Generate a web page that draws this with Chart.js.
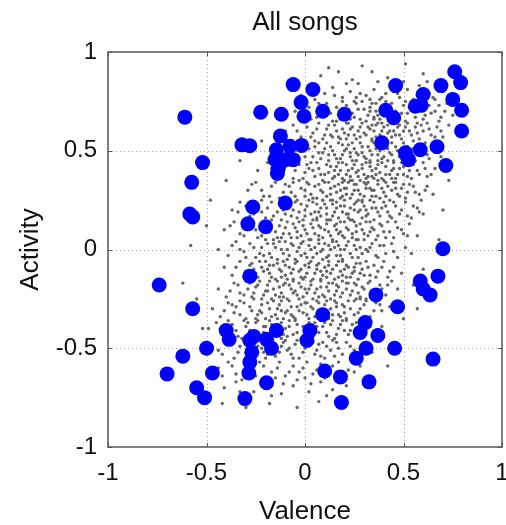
<!DOCTYPE html>
<html>
<head>
<meta charset="utf-8">
<title>All songs</title>
<script src="https://cdn.jsdelivr.net/npm/chart.js@4/dist/chart.umd.min.js"></script>
<style>
  html, body { margin: 0; padding: 0; background: #fff; overflow: hidden; }
  #wrap { width: 506px; height: 525px; position: relative; }
</style>
</head>
<body>
<div id="wrap"><canvas id="chart"></canvas></div>
<script>
// Axis ticks
const xTicks = [-1, -0.5, 0, 0.5, 1];
const yTicks = [-1, -0.5, 0, 0.5, 1];

// Highlighted songs (big blue dots), [valence, activity]
const bluePoints = [
    [-0.61, 0.67], [-0.52, 0.44], [-0.575, 0.34], [-0.585, 0.18], [-0.57, 0.165],
    [-0.225, 0.695], [-0.12, 0.685], [-0.125, 0.575], [-0.32, 0.53], [-0.28, 0.525],
    [-0.145, 0.505], [-0.076, 0.523], [-0.017, 0.527], [-0.152, 0.456], [-0.093, 0.456],
    [-0.135, 0.414], [-0.06, 0.455], [-0.14, 0.385],
    [-0.06, 0.835], [0.04, 0.81], [-0.02, 0.745], [-0.005, 0.675], [0.09, 0.70], [0.20, 0.685],
    [-0.265, 0.215], [-0.10, 0.235], [-0.29, 0.13], [-0.20, 0.115],
    [0.46, 0.83], [0.41, 0.705], [0.45, 0.667], [0.60, 0.785], [0.56, 0.725], [0.59, 0.73],
    [0.69, 0.83], [0.76, 0.90], [0.79, 0.845], [0.75, 0.76], [0.795, 0.705], [0.795, 0.60],
    [0.39, 0.54], [0.51, 0.49], [0.525, 0.455], [0.585, 0.505], [0.67, 0.52], [0.715, 0.425],
    [0.70, 0.004], [0.675, -0.135], [0.585, -0.16], [0.60, -0.20], [0.635, -0.23],
    [0.36, -0.23], [0.47, -0.29], [0.09, -0.33],
    [-0.74, -0.18], [-0.28, -0.135], [-0.57, -0.30], [-0.40, -0.41], [-0.385, -0.455],
    [-0.50, -0.50], [-0.62, -0.54], [-0.70, -0.63], [-0.47, -0.625], [-0.55, -0.70], [-0.51, -0.75],
    [-0.26, -0.44], [-0.195, -0.455], [-0.145, -0.41], [-0.17, -0.50],
    [-0.28, -0.46], [-0.27, -0.52], [-0.28, -0.57], [-0.285, -0.625],
    [-0.195, -0.675], [-0.305, -0.755],
    [0.025, -0.41], [0.01, -0.46], [0.10, -0.615],
    [0.305, -0.37], [0.28, -0.42], [0.37, -0.435], [0.31, -0.50], [0.26, -0.55],
    [0.455, -0.50], [0.65, -0.555], [0.18, -0.645], [0.325, -0.67], [0.185, -0.775]
];

// All songs (small gray dots), upper half of the cloud
const grayUpper = [
    [0.17,0.90],[0.34,0.90],[0.24,0.86],[0.51,0.94],[0.08,0.88],[0.42,0.87],[0.29,0.93],[0.60,0.89],[0.37,0.85],[0.12,0.92],
    [-0.02,0.78],[0.05,0.76],[0.14,0.82],[0.19,0.77],[0.23,0.80],[0.27,0.84],[0.31,0.78],[0.35,0.81],[0.38,0.76],[0.41,0.79],
    [0.44,0.84],[0.48,0.77],[0.52,0.81],[0.55,0.76],[0.58,0.83],[0.63,0.79],[0.66,0.76],[0.70,0.80],[0.10,0.79],[0.21,0.84],
    [0.33,0.76],[0.45,0.80],[0.50,0.85],[0.62,0.77],[0.26,0.77],
    [-0.05,0.70],[0.02,0.72],[0.06,0.67],[0.11,0.74],[0.13,0.69],[0.16,0.72],[0.18,0.66],[0.21,0.73],[0.24,0.69],[0.26,0.74],
    [0.28,0.66],[0.30,0.71],[0.32,0.68],[0.34,0.74],[0.36,0.70],[0.38,0.66],[0.40,0.72],[0.42,0.68],[0.44,0.74],[0.46,0.70],
    [0.48,0.66],[0.50,0.73],[0.52,0.69],[0.54,0.75],[0.56,0.67],[0.58,0.71],[0.61,0.68],[0.63,0.73],[0.66,0.70],[0.69,0.67],
    [0.72,0.74],[0.75,0.68],[0.23,0.66],[0.29,0.75],[0.35,0.67],[0.41,0.75],[0.47,0.67],[0.53,0.72],[0.08,0.70],[0.19,0.75],
    [-0.10,0.60],[-0.06,0.63],[-0.02,0.57],[0.01,0.62],[0.04,0.59],[0.07,0.64],[0.09,0.56],[0.11,0.61],[0.13,0.58],[0.15,0.63],
    [0.17,0.57],[0.19,0.61],[0.21,0.64],[0.22,0.58],[0.24,0.62],[0.26,0.56],[0.27,0.60],[0.29,0.64],[0.31,0.58],[0.32,0.62],
    [0.34,0.56],[0.35,0.60],[0.37,0.64],[0.38,0.58],[0.40,0.62],[0.41,0.56],[0.43,0.60],[0.44,0.64],[0.46,0.58],[0.47,0.62],
    [0.49,0.56],[0.50,0.60],[0.52,0.64],[0.54,0.58],[0.56,0.62],[0.58,0.56],[0.60,0.60],[0.62,0.64],[0.64,0.58],[0.67,0.62],
    [0.70,0.57],[0.73,0.63],[0.20,0.59],[0.28,0.57],[0.36,0.63],[0.42,0.59],[0.48,0.63],[0.55,0.55],[0.05,0.55],[0.16,0.65],
    [-0.14,0.48],[-0.09,0.53],[-0.03,0.46],[0.02,0.51],[0.04,0.47],[0.07,0.54],[0.09,0.49],[0.12,0.45],[0.13,0.52],[0.15,0.48],
    [0.17,0.54],[0.18,0.46],[0.20,0.50],[0.22,0.53],[0.23,0.47],[0.25,0.51],[0.26,0.45],[0.28,0.54],[0.29,0.49],[0.31,0.46],
    [0.32,0.52],[0.34,0.48],[0.35,0.54],[0.37,0.45],[0.38,0.50],[0.40,0.47],[0.41,0.53],[0.43,0.49],[0.45,0.45],[0.46,0.52],
    [0.48,0.47],[0.50,0.54],[0.53,0.46],[0.55,0.51],[0.58,0.48],[0.61,0.54],[0.63,0.46],[0.66,0.50],[0.69,0.47],[0.19,0.53],
    [0.27,0.48],[0.33,0.45],[0.36,0.51],[0.44,0.54],[0.51,0.49],[0.10,0.51],[0.24,0.45],[0.39,0.53],[0.56,0.45],
    [-0.24,0.40],[-0.19,0.44],[-0.15,0.37],[-0.10,0.42],[-0.06,0.36],[-0.03,0.43],[0.00,0.39],[0.03,0.44],[0.05,0.37],[0.07,0.41],
    [0.09,0.35],[0.11,0.43],[0.12,0.39],[0.14,0.36],[0.16,0.42],[0.17,0.38],[0.19,0.44],[0.20,0.35],[0.22,0.40],[0.23,0.37],
    [0.25,0.43],[0.26,0.39],[0.28,0.35],[0.29,0.41],[0.31,0.44],[0.32,0.37],[0.34,0.40],[0.35,0.36],[0.37,0.43],[0.38,0.39],
    [0.40,0.35],[0.41,0.42],[0.43,0.38],[0.45,0.44],[0.46,0.36],[0.48,0.41],[0.50,0.38],[0.52,0.43],[0.54,0.36],[0.57,0.40],
    [0.60,0.44],[0.62,0.37],[0.66,0.41],[0.08,0.38],[0.15,0.40],[0.21,0.43],[0.27,0.37],[0.33,0.42],[0.39,0.36],[0.44,0.40],
    [0.49,0.44],[0.02,0.41],[0.24,0.35],[0.36,0.38],[0.53,0.40],
    [-0.29,0.30],[-0.25,0.34],[-0.21,0.27],[-0.17,0.32],[-0.13,0.26],[-0.10,0.33],[-0.07,0.29],[-0.04,0.25],[-0.02,0.31],[0.01,0.34],
    [0.03,0.28],[0.05,0.32],[0.06,0.26],[0.08,0.30],[0.10,0.34],[0.11,0.27],[0.13,0.31],[0.14,0.25],[0.16,0.29],[0.17,0.33],
    [0.19,0.27],[0.20,0.31],[0.22,0.34],[0.23,0.26],[0.25,0.30],[0.26,0.33],[0.28,0.28],[0.29,0.25],[0.31,0.31],[0.32,0.34],
    [0.34,0.27],[0.35,0.30],[0.37,0.33],[0.38,0.26],[0.40,0.29],[0.42,0.32],[0.43,0.25],[0.45,0.34],[0.47,0.28],[0.49,0.31],
    [0.51,0.26],[0.53,0.33],[0.56,0.29],[0.59,0.25],[0.62,0.32],[0.65,0.28],[0.00,0.27],[0.09,0.25],[0.18,0.30],[0.27,0.25],
    [0.33,0.31],[0.41,0.34],[0.46,0.31],[-0.06,0.34],[0.21,0.28],[0.30,0.34],
    [-0.37,0.20],[-0.33,0.24],[-0.28,0.17],[-0.24,0.22],[-0.20,0.16],[-0.17,0.24],[-0.14,0.19],[-0.12,0.15],[-0.09,0.22],[-0.07,0.17],
    [-0.05,0.24],[-0.03,0.19],[-0.01,0.15],[0.01,0.22],[0.03,0.18],[0.04,0.24],[0.06,0.16],[0.08,0.21],[0.09,0.25],[0.11,0.18],
    [0.12,0.15],[0.14,0.23],[0.15,0.19],[0.17,0.16],[0.18,0.22],[0.20,0.25],[0.21,0.18],[0.23,0.21],[0.24,0.15],[0.26,0.24],
    [0.27,0.19],[0.29,0.16],[0.30,0.22],[0.32,0.18],[0.33,0.25],[0.35,0.15],[0.36,0.21],[0.38,0.17],[0.40,0.24],[0.42,0.19],
    [0.44,0.16],[0.46,0.22],[0.48,0.18],[0.51,0.24],[0.54,0.16],[0.57,0.21],[0.60,0.18],[-0.11,0.20],[0.00,0.17],[0.07,0.19],
    [0.16,0.21],[0.22,0.16],[0.31,0.20],[0.39,0.21],[-0.22,0.19],[0.10,0.23],[0.25,0.20],
    [-0.41,0.10],[-0.36,0.14],[-0.31,0.07],[-0.27,0.12],[-0.24,0.06],[-0.21,0.14],[-0.18,0.09],[-0.16,0.05],[-0.13,0.12],[-0.11,0.08],
    [-0.09,0.14],[-0.07,0.06],[-0.05,0.11],[-0.03,0.14],[-0.02,0.07],[0.00,0.10],[0.02,0.05],[0.03,0.13],[0.05,0.08],[0.06,0.15],
    [0.08,0.11],[0.09,0.06],[0.11,0.13],[0.12,0.09],[0.14,0.05],[0.15,0.12],[0.17,0.08],[0.18,0.14],[0.20,0.06],[0.21,0.11],
    [0.23,0.15],[0.24,0.08],[0.26,0.12],[0.27,0.05],[0.29,0.10],[0.31,0.14],[0.32,0.07],[0.34,0.11],[0.36,0.05],[0.38,0.13],
    [0.40,0.09],[0.42,0.14],[0.45,0.06],[0.47,0.11],[0.50,0.08],[0.53,0.13],[0.57,0.07],[-0.14,0.06],[-0.04,0.09],[0.07,0.12],
    [0.16,0.10],[0.25,0.14],[0.33,0.09],[-0.29,0.10],[0.19,0.07],[0.41,0.06],[0.13,0.15]
];

// Extra gray dots in the dense upper lobe
const grayUpperDense = [
    [0.07,0.74],[0.15,0.78],[0.22,0.71],[0.28,0.79],[0.33,0.72],[0.39,0.77],[0.43,0.71],[0.47,0.79],[0.51,0.75],[0.57,0.78],
    [0.61,0.72],[0.65,0.77],[0.68,0.73],[0.36,0.74],[0.25,0.75],
    [0.03,0.66],[0.10,0.69],[0.14,0.65],[0.19,0.70],[0.25,0.67],[0.27,0.71],[0.31,0.65],[0.33,0.70],[0.37,0.68],[0.39,0.64],
    [0.43,0.70],[0.45,0.66],[0.49,0.69],[0.51,0.65],[0.55,0.70],[0.57,0.64],[0.60,0.66],[0.64,0.69],[0.68,0.65],[0.71,0.70],
    [0.22,0.64],[0.35,0.66],[0.47,0.64],
    [-0.04,0.60],[0.03,0.57],[0.06,0.61],[0.10,0.58],[0.12,0.63],[0.16,0.60],[0.18,0.56],[0.23,0.61],[0.25,0.58],[0.28,0.62],
    [0.30,0.59],[0.33,0.61],[0.36,0.57],[0.39,0.60],[0.42,0.63],[0.45,0.60],[0.48,0.58],[0.51,0.62],[0.53,0.60],[0.57,0.59],
    [0.59,0.63],[0.63,0.61],[0.66,0.57],[0.69,0.60],[0.14,0.57],[0.21,0.56],[0.34,0.63],[0.44,0.57],
    [-0.06,0.50],[0.00,0.47],[0.05,0.52],[0.08,0.46],[0.11,0.54],[0.14,0.50],[0.16,0.46],[0.19,0.48],[0.21,0.51],[0.24,0.54],
    [0.26,0.49],[0.29,0.52],[0.30,0.47],[0.33,0.50],[0.36,0.53],[0.37,0.48],[0.39,0.46],[0.42,0.51],[0.44,0.48],[0.47,0.50],
    [0.49,0.46],[0.52,0.52],[0.54,0.48],[0.57,0.53],[0.60,0.50],[0.62,0.48],[0.65,0.53],[0.12,0.48],[0.23,0.49],[0.34,0.55],
    [0.40,0.55],[0.07,0.49],
    [-0.17,0.41],[-0.12,0.38],[-0.08,0.44],[-0.05,0.40],[-0.01,0.36],[0.01,0.43],[0.04,0.40],[0.06,0.44],[0.10,0.38],[0.13,0.42],
    [0.15,0.37],[0.18,0.40],[0.19,0.36],[0.21,0.38],[0.24,0.41],[0.26,0.45],[0.27,0.40],[0.30,0.38],[0.33,0.44],[0.34,0.37],
    [0.36,0.41],[0.39,0.44],[0.41,0.38],[0.42,0.45],[0.45,0.41],[0.47,0.38],[0.50,0.42],[0.52,0.37],[0.55,0.43],[0.58,0.38],
    [0.61,0.41],[0.64,0.38],[0.17,0.44],[0.29,0.43],[0.31,0.36],[0.44,0.36],
    [-0.27,0.33],[-0.22,0.30],[-0.18,0.27],[-0.15,0.34],[-0.11,0.29],[-0.08,0.32],[-0.05,0.27],[-0.03,0.35],[0.00,0.30],[0.02,0.33],
    [0.04,0.26],[0.07,0.33],[0.09,0.29],[0.12,0.34],[0.13,0.28],[0.15,0.32],[0.18,0.26],[0.19,0.34],[0.21,0.31],[0.24,0.28],
    [0.25,0.33],[0.27,0.30],[0.30,0.27],[0.31,0.33],[0.34,0.30],[0.36,0.27],[0.37,0.35],[0.39,0.31],[0.41,0.27],[0.44,0.30],
    [0.46,0.34],[0.48,0.27],[0.50,0.33],[0.52,0.29],[0.55,0.32],[0.58,0.28],[0.61,0.30],[0.23,0.35],
    [-0.34,0.19],[-0.30,0.22],[-0.26,0.18],[-0.22,0.25],[-0.19,0.21],[-0.16,0.17],[-0.13,0.23],[-0.10,0.18],[-0.08,0.25],[-0.06,0.20],
    [-0.04,0.16],[-0.02,0.23],[0.00,0.20],[0.02,0.25],[0.05,0.19],[0.06,0.23],[0.08,0.17],[0.11,0.21],[0.13,0.25],[0.14,0.17],
    [0.16,0.24],[0.19,0.19],[0.20,0.22],[0.22,0.18],[0.25,0.23],[0.28,0.20],[0.29,0.24],[0.31,0.17],[0.34,0.21],[0.35,0.24],
    [0.37,0.19],[0.41,0.22],[0.43,0.17],[0.45,0.24],[0.49,0.20],[0.52,0.17],[0.55,0.22],[0.58,0.19],
    [-0.38,0.12],[-0.33,0.08],[-0.29,0.14],[-0.25,0.10],[-0.22,0.07],[-0.19,0.12],[-0.17,0.15],[-0.15,0.09],[-0.12,0.06],[-0.10,0.11],
    [-0.08,0.08],[-0.06,0.13],[-0.04,0.06],[-0.01,0.12],[0.01,0.08],[0.04,0.11],[0.04,0.15],[0.07,0.07],[0.10,0.10],[0.11,0.15],
    [0.13,0.07],[0.16,0.13],[0.18,0.09],[0.20,0.14],[0.22,0.10],[0.24,0.06],[0.26,0.09],[0.28,0.13],[0.30,0.08],[0.33,0.14],
    [0.35,0.10],[0.37,0.07],[0.39,0.12],[0.43,0.09],[0.46,0.14],[0.49,0.10],[0.52,0.07]
];

// All songs (small gray dots), lower half of the cloud
const grayLower = [
    [-0.44,0.00],[-0.39,-0.03],[-0.35,0.04],[-0.31,-0.01],[-0.28,0.03],[-0.25,-0.04],[-0.22,0.01],[-0.20,0.05],[-0.18,-0.02],[-0.16,0.03],
    [-0.14,-0.05],[-0.12,0.00],[-0.10,0.04],[-0.08,-0.03],[-0.06,0.02],[-0.05,-0.05],[-0.03,0.01],[-0.01,0.04],[0.00,-0.02],[0.02,0.02],
    [0.04,-0.04],[0.05,0.01],[0.07,0.05],[0.08,-0.01],[0.10,0.03],[0.11,-0.04],[0.13,0.00],[0.14,0.04],[0.16,-0.03],[0.17,0.02],
    [0.19,-0.05],[0.20,0.00],[0.22,0.04],[0.23,-0.02],[0.25,0.02],[0.27,-0.04],[0.28,0.01],[0.30,0.05],[0.32,-0.01],[0.34,0.03],
    [0.36,-0.03],[0.38,0.02],[0.41,-0.02],[0.44,0.03],[0.47,-0.04],[0.51,0.01],[0.54,-0.02],[-0.21,-0.03],[-0.09,0.00],[0.03,0.05],
    [0.12,0.02],[0.18,0.00],[0.26,0.05],[-0.33,0.00],[-0.02,-0.03],[0.09,-0.05],[0.31,0.00],
    [-0.41,-0.09],[-0.37,-0.13],[-0.33,-0.06],[-0.30,-0.11],[-0.27,-0.07],[-0.24,-0.14],[-0.22,-0.09],[-0.20,-0.06],[-0.18,-0.12],[-0.16,-0.08],
    [-0.15,-0.15],[-0.13,-0.10],[-0.11,-0.06],[-0.10,-0.13],[-0.08,-0.09],[-0.06,-0.15],[-0.05,-0.07],[-0.03,-0.11],[-0.02,-0.14],[0.00,-0.08],
    [0.01,-0.12],[0.03,-0.06],[0.04,-0.15],[0.06,-0.10],[0.07,-0.07],[0.09,-0.13],[0.10,-0.09],[0.12,-0.06],[0.13,-0.12],[0.15,-0.15],
    [0.16,-0.08],[0.18,-0.11],[0.19,-0.06],[0.21,-0.14],[0.22,-0.09],[0.24,-0.12],[0.26,-0.07],[0.27,-0.15],[0.29,-0.10],[0.31,-0.06],
    [0.33,-0.13],[0.35,-0.08],[0.37,-0.11],[0.40,-0.06],[0.42,-0.14],[0.45,-0.09],[0.49,-0.12],[-0.19,-0.10],[-0.07,-0.12],[0.02,-0.09],
    [0.11,-0.11],[0.20,-0.10],[0.28,-0.12],[-0.26,-0.10],[-0.12,-0.14],[0.08,-0.15],[0.17,-0.14],[0.25,-0.09],
    [-0.44,-0.20],[-0.40,-0.24],[-0.36,-0.17],[-0.33,-0.22],[-0.30,-0.16],[-0.27,-0.24],[-0.25,-0.19],[-0.23,-0.16],[-0.21,-0.23],[-0.19,-0.18],
    [-0.17,-0.25],[-0.16,-0.20],[-0.14,-0.16],[-0.12,-0.22],[-0.11,-0.18],[-0.09,-0.25],[-0.07,-0.20],[-0.06,-0.16],[-0.04,-0.23],[-0.02,-0.19],
    [-0.01,-0.15],[0.01,-0.22],[0.03,-0.18],[0.04,-0.25],[0.06,-0.20],[0.08,-0.16],[0.09,-0.23],[0.11,-0.19],[0.13,-0.25],[0.14,-0.17],
    [0.16,-0.21],[0.18,-0.24],[0.19,-0.16],[0.21,-0.20],[0.23,-0.23],[0.25,-0.17],[0.27,-0.22],[0.29,-0.19],[0.31,-0.25],[0.33,-0.16],
    [0.35,-0.21],[0.38,-0.18],[0.41,-0.23],[0.44,-0.16],[0.47,-0.20],[-0.20,-0.21],[-0.10,-0.17],[0.00,-0.20],[0.07,-0.24],[0.12,-0.21],
    [0.22,-0.17],[-0.29,-0.20],[-0.13,-0.24],[0.17,-0.19],[0.26,-0.25],[-0.05,-0.21],
    [-0.47,-0.30],[-0.43,-0.34],[-0.39,-0.27],[-0.36,-0.32],[-0.33,-0.26],[-0.30,-0.35],[-0.28,-0.29],[-0.26,-0.25],[-0.24,-0.33],[-0.22,-0.28],
    [-0.20,-0.35],[-0.18,-0.30],[-0.16,-0.26],[-0.15,-0.33],[-0.13,-0.28],[-0.11,-0.35],[-0.09,-0.31],[-0.08,-0.26],[-0.06,-0.34],[-0.04,-0.29],
    [-0.03,-0.25],[-0.01,-0.32],[0.01,-0.27],[0.02,-0.35],[0.04,-0.30],[0.06,-0.26],[0.08,-0.33],[0.10,-0.28],[0.12,-0.35],[0.13,-0.30],
    [0.15,-0.26],[0.17,-0.33],[0.19,-0.28],[0.21,-0.35],[0.23,-0.30],[0.25,-0.26],[0.27,-0.32],[0.30,-0.28],[0.33,-0.34],[0.36,-0.27],
    [0.39,-0.31],[0.43,-0.29],[-0.23,-0.31],[-0.12,-0.31],[-0.02,-0.28],[0.07,-0.31],[0.16,-0.29],[-0.35,-0.29],[-0.07,-0.33],[0.20,-0.32],
    [0.28,-0.25],
    [-0.49,-0.40],[-0.45,-0.37],[-0.41,-0.43],[-0.37,-0.38],[-0.34,-0.44],[-0.31,-0.36],[-0.28,-0.41],[-0.25,-0.37],[-0.23,-0.44],[-0.20,-0.39],
    [-0.18,-0.36],[-0.16,-0.42],[-0.14,-0.38],[-0.12,-0.45],[-0.10,-0.40],[-0.08,-0.36],[-0.06,-0.43],[-0.04,-0.38],[-0.02,-0.45],[0.00,-0.41],
    [0.02,-0.37],[0.04,-0.44],[0.06,-0.39],[0.08,-0.36],[0.11,-0.42],[0.13,-0.38],[0.15,-0.45],[0.17,-0.40],[0.19,-0.36],[0.22,-0.43],
    [0.24,-0.38],[0.27,-0.41],[0.31,-0.37],[0.35,-0.43],[0.39,-0.39],[-0.21,-0.42],[-0.09,-0.44],[0.03,-0.40],[0.10,-0.37],[-0.30,-0.39],
    [0.20,-0.41],[-0.14,-0.35],
    [-0.47,-0.49],[-0.42,-0.53],[-0.38,-0.47],[-0.34,-0.52],[-0.31,-0.46],[-0.27,-0.54],[-0.24,-0.49],[-0.21,-0.52],[-0.18,-0.47],[-0.15,-0.54],
    [-0.12,-0.49],[-0.10,-0.46],[-0.07,-0.53],[-0.05,-0.48],[-0.03,-0.55],[0.00,-0.50],[0.02,-0.46],[0.05,-0.53],[0.07,-0.48],[0.10,-0.55],
    [0.13,-0.51],[0.16,-0.47],[0.19,-0.53],[0.23,-0.49],[0.27,-0.55],[0.31,-0.47],[0.34,-0.52],[-0.09,-0.51],[0.09,-0.47],[-0.20,-0.55],
    [0.15,-0.54],
    [-0.44,-0.60],[-0.39,-0.57],[-0.35,-0.63],[-0.30,-0.58],[-0.25,-0.64],[-0.21,-0.59],[-0.17,-0.62],[-0.13,-0.57],[-0.10,-0.64],[-0.06,-0.59],
    [-0.03,-0.62],[0.01,-0.57],[0.04,-0.63],[0.08,-0.58],[0.12,-0.62],[0.17,-0.57],[0.22,-0.61],[0.28,-0.59],[-0.15,-0.65],[0.00,-0.65],
    [-0.41,-0.70],[-0.35,-0.67],[-0.26,-0.72],[-0.20,-0.68],[-0.12,-0.73],[-0.06,-0.69],[0.02,-0.72],[0.08,-0.67],[0.14,-0.71],[0.21,-0.69],
    [-0.42,-0.78],[-0.18,-0.78],[-0.04,-0.80],[0.07,-0.77],[-0.30,-0.80]
];

// Extra gray dots in the dense lower lobe
const grayLowerDense = [
    [-0.37,0.02],[-0.30,-0.04],[-0.26,0.01],[-0.23,-0.02],[-0.19,0.03],[-0.17,-0.04],[-0.15,0.01],[-0.13,0.04],[-0.11,-0.02],[-0.09,-0.05],
    [-0.07,0.03],[-0.04,-0.01],[-0.02,0.03],[0.01,-0.04],[0.03,0.00],[0.06,-0.02],[0.07,0.03],[0.09,0.00],[0.12,-0.03],[0.15,0.01],
    [0.16,0.04],[0.18,-0.03],[0.21,0.02],[0.24,-0.04],[0.26,0.00],[0.29,-0.02],[0.33,0.01],[0.37,-0.04],[0.40,0.02],[0.45,-0.01],
    [-0.35,-0.09],[-0.31,-0.14],[-0.28,-0.08],[-0.25,-0.12],[-0.23,-0.06],[-0.21,-0.11],[-0.18,-0.08],[-0.17,-0.14],[-0.14,-0.07],[-0.12,-0.11],
    [-0.10,-0.08],[-0.09,-0.15],[-0.06,-0.10],[-0.04,-0.06],[-0.02,-0.10],[0.00,-0.14],[0.02,-0.07],[0.05,-0.12],[0.06,-0.08],[0.08,-0.11],
    [0.11,-0.14],[0.12,-0.08],[0.14,-0.10],[0.17,-0.06],[0.19,-0.13],[0.21,-0.08],[0.23,-0.14],[0.25,-0.11],[0.28,-0.07],[0.30,-0.13],
    [0.32,-0.09],[0.36,-0.14],[0.39,-0.09],[0.43,-0.11],
    [-0.38,-0.21],[-0.34,-0.18],[-0.31,-0.23],[-0.28,-0.17],[-0.26,-0.22],[-0.24,-0.18],[-0.22,-0.25],[-0.19,-0.21],[-0.18,-0.16],[-0.15,-0.23],
    [-0.13,-0.19],[-0.11,-0.24],[-0.08,-0.18],[-0.06,-0.22],[-0.03,-0.17],[-0.01,-0.24],[0.02,-0.20],[0.03,-0.16],[0.05,-0.22],[0.08,-0.19],
    [0.10,-0.24],[0.12,-0.17],[0.15,-0.23],[0.16,-0.18],[0.19,-0.22],[0.21,-0.17],[0.24,-0.21],[0.26,-0.18],[0.28,-0.24],[0.30,-0.20],
    [0.32,-0.17],[0.36,-0.23],[0.39,-0.20],[0.42,-0.18],
    [-0.41,-0.31],[-0.37,-0.28],[-0.33,-0.33],[-0.31,-0.27],[-0.27,-0.31],[-0.25,-0.35],[-0.22,-0.32],[-0.19,-0.27],[-0.17,-0.34],[-0.14,-0.30],
    [-0.12,-0.26],[-0.10,-0.32],[-0.07,-0.29],[-0.05,-0.35],[-0.03,-0.31],[0.00,-0.27],[0.01,-0.33],[0.03,-0.29],[0.05,-0.34],[0.07,-0.27],
    [0.09,-0.31],[0.11,-0.26],[0.14,-0.33],[0.16,-0.27],[0.18,-0.34],[0.20,-0.29],[0.22,-0.26],[0.25,-0.33],[0.28,-0.30],[0.31,-0.26],
    [0.35,-0.31],[0.38,-0.28],
    [-0.43,-0.40],[-0.39,-0.36],[-0.35,-0.41],[-0.32,-0.45],[-0.29,-0.37],[-0.26,-0.42],[-0.24,-0.36],[-0.21,-0.39],[-0.19,-0.44],[-0.17,-0.38],
    [-0.15,-0.41],[-0.12,-0.37],[-0.11,-0.43],[-0.08,-0.39],[-0.05,-0.36],[-0.04,-0.42],[-0.01,-0.39],[0.01,-0.44],[0.05,-0.37],[0.07,-0.42],
    [0.09,-0.39],[0.12,-0.44],[0.14,-0.36],[0.16,-0.43],[0.18,-0.38],[0.21,-0.36],[0.23,-0.41],[0.26,-0.37],[0.29,-0.43],[0.33,-0.39],
    [-0.44,-0.51],[-0.40,-0.48],[-0.36,-0.55],[-0.33,-0.49],[-0.29,-0.52],[-0.26,-0.47],[-0.22,-0.50],[-0.19,-0.53],[-0.17,-0.49],[-0.13,-0.52],
    [-0.11,-0.47],[-0.08,-0.50],[-0.06,-0.55],[-0.04,-0.46],[-0.01,-0.52],[0.01,-0.49],[0.04,-0.47],[0.06,-0.51],[0.08,-0.54],[0.11,-0.49],
    [0.14,-0.46],[0.17,-0.50],[0.21,-0.47],[0.25,-0.51],[0.29,-0.50],
    [-0.42,-0.64],[-0.37,-0.59],[-0.32,-0.66],[-0.28,-0.61],[-0.23,-0.57],[-0.19,-0.65],[-0.14,-0.60],[-0.11,-0.68],[-0.08,-0.62],[-0.04,-0.66],
    [-0.01,-0.60],[0.03,-0.68],[0.06,-0.61],[0.10,-0.65],[0.14,-0.59],[0.19,-0.64],[0.25,-0.62],[-0.33,-0.72],[-0.17,-0.74],[0.11,-0.74]
];

// Scattered outliers of the gray cloud
const grayOutliers = [
    [-0.62,-0.17],[-0.52,-0.40],[-0.58,0.02],[-0.55,-0.25],[-0.50,0.12],[0.70,0.20],[0.73,0.35],[0.68,0.05],[0.60,-0.10],[0.57,-0.30],
    [0.42,-0.59],[0.55,-0.18],[-0.48,0.25],[-0.40,0.35],[-0.33,0.45],[-0.22,0.55],[0.62,0.85],[-0.60,-0.55],[0.50,-0.35]
];

const FONT = "'Liberation Sans', Arial, Helvetica, sans-serif";
const toXY = arr => arr.map(p => ({ x: p[0], y: p[1] }));
const grayAll = [].concat(grayUpper, grayUpperDense, grayLower, grayLowerDense, grayOutliers);

// Matlab style box: dotted grid, frame and inward tick marks
const boxPlugin = {
    id: 'matlabBox',
    beforeDatasetsDraw(chart) {
        const { ctx, chartArea: a, scales: { x, y } } = chart;
        ctx.save();
        ctx.strokeStyle = '#a8a8a8';
        ctx.lineWidth = 1;
        ctx.setLineDash([1, 3]);
        xTicks.slice(1, -1).forEach(v => {
            const px = Math.round(x.getPixelForValue(v)) + 0.5;
            ctx.beginPath(); ctx.moveTo(px, a.top); ctx.lineTo(px, a.bottom); ctx.stroke();
        });
        yTicks.slice(1, -1).forEach(v => {
            const py = Math.round(y.getPixelForValue(v)) + 0.5;
            ctx.beginPath(); ctx.moveTo(a.left, py); ctx.lineTo(a.right, py); ctx.stroke();
        });
        ctx.restore();
    },
    afterDatasetsDraw(chart) {
        const { ctx, chartArea: a, scales: { x, y } } = chart;
        ctx.save();
        ctx.strokeStyle = '#555';
        ctx.lineWidth = 1.5;
        ctx.strokeRect(a.left, a.top, a.right - a.left, a.bottom - a.top);
        ctx.lineWidth = 1;
        const len = 4;
        xTicks.forEach(v => {
            const px = Math.round(x.getPixelForValue(v)) + 0.5;
            ctx.beginPath();
            ctx.moveTo(px, a.bottom); ctx.lineTo(px, a.bottom - len);
            ctx.moveTo(px, a.top); ctx.lineTo(px, a.top + len);
            ctx.stroke();
        });
        yTicks.forEach(v => {
            const py = Math.round(y.getPixelForValue(v)) + 0.5;
            ctx.beginPath();
            ctx.moveTo(a.left, py); ctx.lineTo(a.left + len, py);
            ctx.moveTo(a.right, py); ctx.lineTo(a.right - len, py);
            ctx.stroke();
        });
        ctx.restore();
    }
};

const ctx = document.getElementById('chart').getContext('2d');
new Chart(ctx, {
    type: 'scatter',
    data: {
        datasets: [
            {
                label: 'Selected',
                data: toXY(bluePoints),
                backgroundColor: '#0000ff',
                borderColor: '#0000ff',
                pointRadius: 7.5,
                borderWidth: 0,
                order: 1
            },
            {
                label: 'All songs',
                data: toXY(grayAll),
                backgroundColor: '#666666',
                borderColor: '#666666',
                pointRadius: 1.7,
                borderWidth: 0,
                order: 2
            }
        ]
    },
    options: {
        responsive: true,
        maintainAspectRatio: false,
        animation: false,
        events: [],
        layout: { autoPadding: false, padding: { left: 0, right: 4, top: 0, bottom: 0 } },
        plugins: {
            legend: { display: false },
            tooltip: { enabled: false },
            title: {
                display: true,
                text: 'All songs',
                fullSize: false,
                color: '#111',
                font: { family: FONT, size: 26, weight: 'normal', lineHeight: 1.2 },
                padding: { top: 7, bottom: 13.8 }
            }
        },
        scales: {
            x: {
                type: 'linear',
                min: -1,
                max: 1,
                grid: { display: false, drawTicks: false },
                border: { display: false },
                afterBuildTicks: s => { s.ticks = xTicks.map(v => ({ value: v })); },
                afterFit: s => { s.height = 78; s.paddingLeft = 0; s.paddingRight = 0; },
                ticks: {
                    color: '#111',
                    padding: 12,
                    maxRotation: 0,
                    autoSkip: false,
                    font: { family: FONT, size: 24 },
                    callback: v => String(v)
                },
                title: {
                    display: true,
                    text: 'Valence',
                    color: '#111',
                    font: { family: FONT, size: 26, lineHeight: 1 },
                    padding: { top: 0, bottom: 0 }
                }
            },
            y: {
                type: 'linear',
                min: -1,
                max: 1,
                grid: { display: false, drawTicks: false },
                border: { display: false },
                afterBuildTicks: s => { s.ticks = yTicks.map(v => ({ value: v })); },
                afterFit: s => { s.width = 108; s.paddingTop = 0; s.paddingBottom = 0; },
                ticks: {
                    color: '#111',
                    padding: 11,
                    autoSkip: false,
                    font: { family: FONT, size: 24 },
                    callback: v => String(v)
                },
                title: {
                    display: true,
                    text: 'Activity',
                    color: '#111',
                    font: { family: FONT, size: 26, lineHeight: 1 },
                    padding: { top: 18, bottom: 0 }
                }
            }
        }
    },
    plugins: [boxPlugin]
});
</script>
</body>
</html>
